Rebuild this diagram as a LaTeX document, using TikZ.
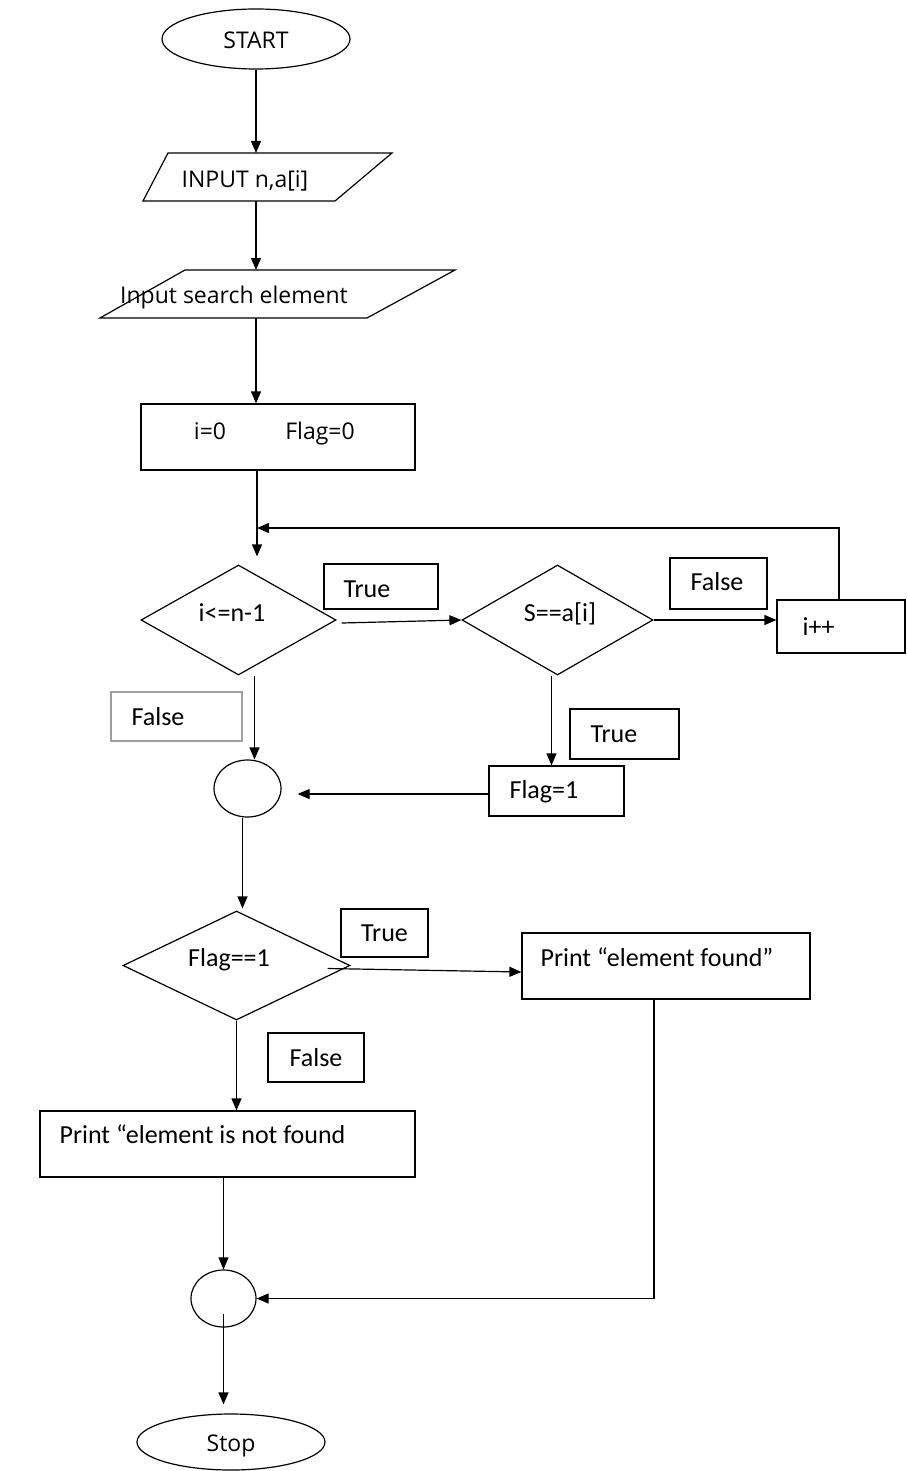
\documentclass[tikz,border=0pt]{standalone}
\usepackage{fontspec}
\newfontfamily\lblfont{Carlito}
\newfontfamily\termfont{Open Sans}
\usetikzlibrary{shapes.geometric,arrows.meta,calc}

\begin{document}
\begin{tikzpicture}[x=1pt,y=-1pt,
  line width=1.2pt,
  arr/.style={-{Triangle[length=12pt,width=10pt]}},
  shapebox/.style={draw,rectangle,inner sep=0pt},
  oval/.style={draw,ellipse,inner sep=0pt},
  decision/.style={draw,diamond,inner sep=0pt},
  tag/.style={draw,rectangle,inner sep=0pt},
  lbl/.style={inner sep=0pt,yshift=-2.5pt,font=\lblfont\fontsize{26}{30}\selectfont,text height=17pt,text depth=5pt},
  term/.style={inner sep=0pt,yshift=-4pt,font=\termfont\fontsize{23}{28}\selectfont,text height=16pt,text depth=5pt},
]
\useasboundingbox (0,0) rectangle (906,1471);

% start and inputs
\node[oval,minimum width=188pt,minimum height=60pt] (start) at (256,39) {};
\node[term] (startt) at (256,39) {START};

\draw (168,153) -- (392,153) -- (335,201) -- (143,201) -- cycle;
\node[term] (in1) at (245,178) {INPUT n,a[i]};
\coordinate (in1top) at (256,153);
\coordinate (in1bot) at (256,201);

\draw (185,270) -- (455,270) -- (367,318) -- (100,318) -- cycle;
\node[term] (in2) at (234,294) {Input search element};
\coordinate (in2top) at (256,270);
\coordinate (in2bot) at (256,318);

\node[shapebox,minimum width=274pt,minimum height=66pt] (init) at (278,437) {};
\node[term] (iz) at (210,430) {i=0};
\node[term] (fz) at (320,430) {Flag=0};

\draw[arr] (start) -- (in1top);
\draw[arr] (in1bot) -- (in2top);
\draw[arr] (in2bot) -- (in2bot |- init.north);

% search loop
\coordinate (loop) at (257,528);
\node[decision,minimum width=195pt,minimum height=110pt] (d1) at (238.5,620) {};
\node[lbl] (d1t) at (232,613) {i<=n-1};
\draw[arr,shorten >=8pt] (loop |- init.south) -- (loop |- d1.north);

\node[tag,minimum width=114pt,minimum height=45pt] (t1) at (381,586.5) {};
\node[lbl,anchor=west] (t1t) at (343,589) {True};

\node[decision,minimum width=191pt,minimum height=110pt] (d2) at (557.5,620) {};
\node[lbl] (d2t) at (560,613) {S==a[i]};
\draw[arr] ($(d1.east)+(5,3)$) -- (d2.west);

\node[tag,minimum width=97pt,minimum height=51pt] (fb2) at (718.5,583.5) {};
\node[lbl,anchor=west] (fb2t) at (690,582) {False};

\node[shapebox,minimum width=128pt,minimum height=53pt] (inc) at (841,626.5) {};
\node[lbl,anchor=west] (inct) at (802,627) {i++};
\draw[arr] (d2.east) -- (d2.east -| inc.west);
\draw[arr] ($(inc.north)+(-2,0)$) |- (loop);

\node[oval,minimum width=67pt,minimum height=57pt] (c1) at (247.5,788.5) {};
\coordinate (d1o) at ($(d1.south)+(16,0)$);
\draw[arr] (d1o) -- (d1o |- c1.north);

\node[tag,draw=gray!75,minimum width=131pt,minimum height=49pt] (fb1) at (176.5,716.5) {};
\node[lbl,anchor=west] (fb1t) at (131,717) {False};

\node[tag,minimum width=109pt,minimum height=50pt] (t2) at (624.5,734) {};
\node[lbl,anchor=west] (t2t) at (590,734) {True};

\node[shapebox,minimum width=135pt,minimum height=50pt] (f1) at (556.5,791) {};
\node[lbl,anchor=west] (f1t) at (509,790) {Flag=1};
\coordinate (d2o) at ($(d2.south)+(-6,0)$);
\draw[arr] (d2o) -- (d2o |- f1.north);
\coordinate (f1w) at ($(f1.west)+(0,3)$);
\draw[arr,shorten >=16pt] (f1w) -- (c1.east |- f1w);

% result test
\node[decision,minimum width=227pt,minimum height=109pt] (d3) at (236.5,965.5) {};
\node[lbl] (d3t) at (229,958) {Flag==1};
\coordinate (c1o) at ($(c1.south)+(-5,0)$);
\draw[arr,shorten >=2pt] (c1o) -- (c1o |- d3.north);

\node[tag,minimum width=87pt,minimum height=48pt] (t3) at (384.5,933) {};
\node[lbl] (t3t) at (384.5,933) {True};

\node[shapebox,minimum width=288pt,minimum height=66pt] (found) at (666,966) {};
\node[lbl,anchor=west] (foundt) at (540,958) {Print “element found”};
\draw[arr] ($(d3.east)+(-23,3)$) -- ($(found.west)+(0,6)$);

\node[tag,minimum width=96pt,minimum height=49pt] (fb3) at (316,1057.5) {};
\node[lbl] (fb3t) at (316,1058) {False};

\node[shapebox,minimum width=375pt,minimum height=66pt] (nf) at (227.5,1144) {};
\node[lbl,anchor=west] (nft) at (59,1135) {Print “element is not found};
\draw[arr] (d3.south) -- (d3.south |- nf.north);

% merge and stop
\node[oval,minimum width=65pt,minimum height=57pt] (c2) at (223.5,1298.5) {};
\draw[arr] (c2.north |- nf.south) -- (c2.north);
\coordinate (fo) at ($(found.south)+(-12,0)$);
\draw[arr] (fo) |- (c2.east);

\node[oval,minimum width=188pt,minimum height=56pt] (stop) at (231,1442) {};
\node[term] (stopt) at (231,1442) {Stop};
\draw[arr,shorten >=9pt] ($(c2.center)+(0,15)$) -- (c2.center |- stop.north);
\end{tikzpicture}
\end{document}
